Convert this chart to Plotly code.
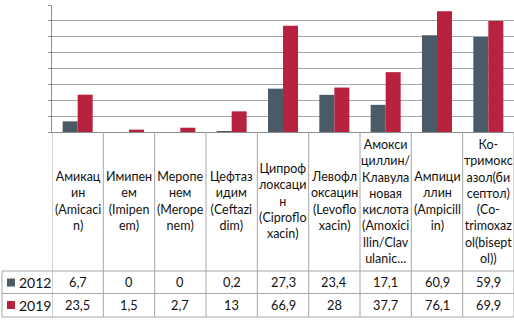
import plotly.graph_objects as go

# ---- data ----
categories = [
    "Амикац<br>ин<br>(Amicaci<br>n)",
    "Имипен<br>ем<br>(Imipen<br>em)",
    "Меропе<br>нем<br>(Merope<br>nem)",
    "Цефтаз<br>идим<br>(Ceftazi<br>dim)",
    "Ципроф<br>локсаци<br>н<br>(Ciproflo<br>xacin)",
    "Левофл<br>оксацин<br>(Levoflo<br>xacin)",
    "Амокси<br>циллин/<br>Клавула<br>новая<br>кислота<br>(Amoxici<br>llin/Clav<br>ulanic...",
    "Ампици<br>ллин<br>(Ampicill<br>in)",
    "Ко-<br>тримокс<br>азол(би<br>септол)<br>(Co-<br>trimoxaz<br>ol(bisept<br>ol))",
]
series_names = ["2012", "2019"]
values_2012 = [6.7, 0, 0, 0.2, 27.3, 23.4, 17.1, 60.9, 59.9]
values_2019 = [23.5, 1.5, 2.7, 13, 66.9, 28, 37.7, 76.1, 69.9]
colors = ["#4b5a67", "#b7223f"]

W, H = 514, 321
ML, MR, MT, MB = 52, 0, 5, 189
plot_h = H - MT - MB
plot_w = W - ML - MR

def py(p):  # pixel y -> paper y
    return (H - MB - p) / plot_h

def px(p):  # pixel x -> paper x
    return (p - ML) / plot_w

fmt = lambda v: ("%g" % v).replace(".", ",")
xs = list(range(len(categories)))

fig = go.Figure()
for name, vals, col in zip(series_names, [values_2012, values_2019], colors):
    fig.add_trace(go.Bar(x=xs, y=vals, name=name, marker=dict(color=col, line=dict(width=0)),
                         showlegend=False, hoverinfo="skip"))

FONT = "Lato, Roboto"
TXT = "#111111"
LINE = "#a6a6a6"
shapes = []
annotations = []

y_row1, y_row2, y_bot = py(271), py(293.5), py(317)
x_left = px(2)

# vertical column separators (through x scale)
for i in range(len(categories) + 1):
    shapes.append(dict(type="line", xref="x", yref="paper", x0=i - 0.5, x1=i - 0.5,
                       y0=0, y1=y_bot, line=dict(color=LINE, width=1)))
# horizontal table lines
for yy in [y_row1, y_row2, y_bot]:
    shapes.append(dict(type="line", xref="paper", yref="paper", x0=x_left, x1=1,
                       y0=yy, y1=yy, line=dict(color=LINE, width=1)))
shapes.append(dict(type="line", xref="paper", yref="paper", x0=x_left, x1=x_left,
                   y0=y_row1, y1=y_bot, line=dict(color=LINE, width=1)))

# header labels
for i, c in enumerate(categories):
    annotations.append(dict(x=i, xref="x", y=py(201), yref="paper", text=c, showarrow=False,
                            xanchor="center", yanchor="middle",
                            font=dict(family=FONT, size=12.5, color=TXT)))
# value rows
for vals, ypix, name, col in [(values_2012, 282.5, series_names[0], colors[0]),
                              (values_2019, 305, series_names[1], colors[1])]:
    for i, v in enumerate(vals):
        annotations.append(dict(x=i, xref="x", y=py(ypix), yref="paper", text=fmt(v),
                                showarrow=False, xanchor="center", yanchor="middle",
                                font=dict(family=FONT, size=12.8, color=TXT)))
    shapes.append(dict(type="rect", xref="paper", yref="paper", x0=px(7), x1=px(15),
                       y0=py(ypix + 4), y1=py(ypix - 4), fillcolor=col, line=dict(width=0)))
    annotations.append(dict(x=px(17), xref="paper", y=py(ypix), yref="paper", text=name,
                            showarrow=False, xanchor="left", yanchor="middle",
                            font=dict(family=FONT, size=14, color=TXT)))

fig.update_layout(
    width=W, height=H,
    margin=dict(l=ML, r=MR, t=MT, b=MB, pad=0),
    paper_bgcolor="white", plot_bgcolor="white",
    barmode="group", bargap=0.415, bargroupgap=0,
    xaxis=dict(range=[-0.5, len(categories) - 0.5], showticklabels=False, showgrid=False,
               zeroline=False, showline=True, linecolor="#8c8c8c", linewidth=1, ticks=""),
    yaxis=dict(range=[0, 80], dtick=10, showticklabels=False, showgrid=True,
               gridcolor=LINE, gridwidth=1, zeroline=False, showline=True,
               linecolor="#8c8c8c", linewidth=1, ticks="outside", ticklen=3,
               tickcolor="#8c8c8c"),
    shapes=shapes, annotations=annotations,
    font=dict(family=FONT),
)
fig.write_html("out.html", config={"displayModeBar": False},
               post_script="document.body.style.margin='0';document.body.style.overflow='hidden';")
